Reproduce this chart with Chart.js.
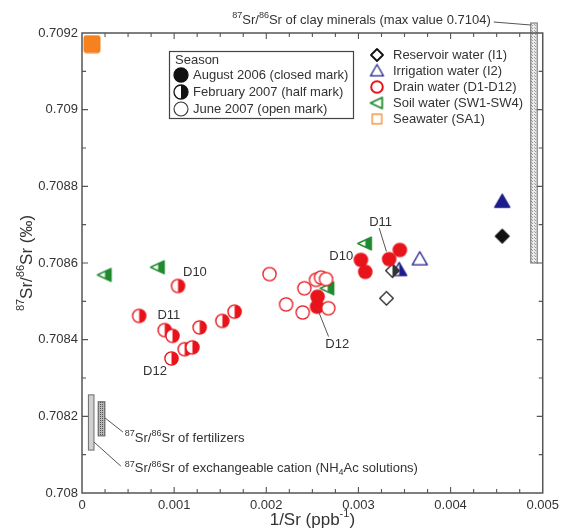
<!DOCTYPE html>
<html><head><meta charset="utf-8">
<script src="https://cdn.jsdelivr.net/npm/chart.js@4"></script>
<style>html,body{margin:0;padding:0;background:#fff}#wrap{width:564px;height:531px;position:relative}</style>
</head><body><div id="wrap"><canvas id="c"></canvas></div>
<script>
// ---------- DATA ----------
const drainAug = [[0.003449,0.708634],[0.003333,0.70861],[0.003027,0.708608],[0.003074,0.708577],[0.002557,0.708512],[0.002551,0.708486]];
const drainFeb = [[0.001042,0.70854],[0.00062,0.708462],[0.000898,0.708425],[0.000982,0.70841],[0.001277,0.708432],[0.001523,0.708449],[0.001656,0.708473],[0.001115,0.708375],[0.001198,0.70838],[0.000971,0.708351]];
const drainJun = [[0.002035,0.708571],[0.002413,0.708534],[0.00254,0.708556],[0.002594,0.708562],[0.002648,0.708558],[0.002215,0.708492],[0.002395,0.708471],[0.002673,0.708482]];
const soilFeb = [[0.000249,0.708569],[0.000826,0.708589],[0.003074,0.708651],[0.002666,0.708534]];
const irrigAug = [[0.00456,0.70876]];
const irrigFeb = [[0.003442,0.708582]];
const irrigJun = [[0.003666,0.70861]];
const resAug = [[0.00456,0.70867]];
const resFeb = [[0.003369,0.70858]];
const resJun = [[0.003304,0.708508]];
const seaAug = [[0.000108,0.709171]];
// ranges drawn as bars: [xFrom, xTo, yFrom, yTo]
const clayRange = [0.00487, 0.00494, 0.7086, 0.7104];
const exchRange = [0.00007, 0.00013, 0.708112, 0.708256];
const fertRange = [0.000176, 0.000248, 0.708149, 0.708238];
// axis
const xMin = 0, xMax = 0.005, xStep = 0.00025, xMajor = 0.001;
const yMin = 0.708, yMax = 0.7092, yStep = 0.0001;
const seasonLabels = ['August 2006 (closed mark)', 'February 2007 (half mark)', 'June 2007 (open mark)'];
const typeLabels = ['Reservoir water (I1)', 'Irrigation water (I2)', 'Drain water (D1-D12)', 'Soil water (SW1-SW4)', 'Seawater (SA1)'];
// sample labels, anchored in data units
const sampleLabels = [
  {t:'D10', x:0.001096, y:0.708576}, {t:'D11', x:0.000819, y:0.708462}, {t:'D12', x:0.000663, y:0.708318},
  {t:'D11', x:0.003117, y:0.708705}, {t:'D10', x:0.002684, y:0.708618}, {t:'D12', x:0.002641, y:0.708388}
];
const leaderLines = [
  [0.003225,0.708691,0.003304,0.70863], [0.002568,0.708473,0.002676,0.708408],
  [0.000249,0.708196,0.000444,0.708159], [0.00013,0.708133,0.000422,0.70807]
];

// ---------- helpers ----------
const FAM = '"Liberation Sans", Arial, Helvetica, sans-serif';
const RED = '#e8141b', GREEN = '#1f8a2e', NAVY = '#1c1c8a', ORANGE = '#f5821f', BLACK = '#111';

function shapePath(ctx, shape, c, r) {
  ctx.beginPath();
  if (shape === 'circle') ctx.arc(c, c, r, 0, Math.PI * 2);
  else if (shape === 'triUp') { ctx.moveTo(c, c - r); ctx.lineTo(c + r * 1.0, c + r * 0.75); ctx.lineTo(c - r * 1.0, c + r * 0.75); ctx.closePath(); }
  else if (shape === 'triLeft') { ctx.moveTo(c - r, c); ctx.lineTo(c + r * 0.8, c - r * 0.85); ctx.lineTo(c + r * 0.8, c + r * 0.85); ctx.closePath(); }
  else if (shape === 'diamond') { ctx.moveTo(c, c - r); ctx.lineTo(c + r, c); ctx.lineTo(c, c + r); ctx.lineTo(c - r, c); ctx.closePath(); }
  else if (shape === 'square') { ctx.rect(c - r, c - r, 2 * r, 2 * r); }
}
function marker(shape, color, fill, r, lw) {
  const s = Math.ceil(2 * r + lw + 4);
  const cv = document.createElement('canvas'); cv.width = s; cv.height = s;
  const ctx = cv.getContext('2d'); const c = s / 2;
  ctx.lineJoin = 'round'; ctx.lineWidth = lw; ctx.strokeStyle = color;
  shapePath(ctx, shape, c, r);
  ctx.fillStyle = fill === 'full' ? color : '#fff'; ctx.fill();
  if (fill === 'half') {
    ctx.save(); ctx.beginPath(); ctx.rect(c, 0, s, s); ctx.clip();
    shapePath(ctx, shape, c, r); ctx.fillStyle = color; ctx.fill(); ctx.restore();
    shapePath(ctx, shape, c, r);
  }
  ctx.stroke();
  return cv;
}
function pattern(ctx, bg, dot, n) {
  const cv = document.createElement('canvas'); cv.width = n; cv.height = n;
  const p = cv.getContext('2d'); p.fillStyle = bg; p.fillRect(0, 0, n, n);
  p.fillStyle = dot; p.fillRect(0, 0, 1, 1); if (n > 2) p.fillRect(Math.floor(n/2), Math.floor(n/2), 1, 1);
  return ctx.createPattern(cv, 'repeat');
}
function rich(ctx, x, y, parts, size, align) {
  let w = 0;
  const ms = parts.map(([t, m]) => { ctx.font = (m ? Math.round(size * 0.66) : size) + 'px ' + FAM; const v = ctx.measureText(t).width; w += v; return v; });
  let cx = align === 'center' ? x - w / 2 : align === 'right' ? x - w : x;
  ctx.textAlign = 'left'; ctx.textBaseline = 'middle';
  parts.forEach(([t, m], i) => {
    ctx.font = (m ? Math.round(size * 0.66) : size) + 'px ' + FAM;
    const dy = m === 'sup' ? -size * 0.36 : m === 'sub' ? size * 0.3 : 0;
    ctx.fillText(t, cx, y + dy); cx += ms[i];
  });
}

// markers
const M = {
  drainAug: marker('circle', RED, 'full', 6.6, 1.4),
  drainFeb: marker('circle', RED, 'half', 6.6, 1.4),
  drainJun: marker('circle', RED, 'none', 6.6, 1.3),
  soilFeb: marker('triLeft', GREEN, 'half', 7.5, 1.5),
  irrigAug: marker('triUp', NAVY, 'full', 7.5, 1.4),
  irrigFeb: marker('triUp', NAVY, 'half', 7.5, 1.4),
  irrigJun: marker('triUp', NAVY, 'none', 7.5, 1.3),
  resAug: marker('diamond', BLACK, 'full', 6.8, 1.4),
  resFeb: marker('diamond', '#333', 'half', 6.8, 1.4),
  resJun: marker('diamond', '#333', 'none', 6.8, 1.4),
  sea: (function(){ const cv = document.createElement('canvas'); cv.width = 18; cv.height = 19; const c = cv.getContext('2d'); c.fillStyle = ORANGE; c.beginPath(); c.roundRect(0.5, 0.5, 17, 18, 3); c.fill(); return cv; })()
};
const pts = a => a.map(([x, y]) => ({x, y}));
const ds = (data, img) => ({data: pts(data), pointStyle: img, pointRadius: 7, pointHoverRadius: 7, showLine: false});

const barsPlugin = {
  id: 'bars',
  beforeDatasetsDraw(chart) {
    const {ctx, scales: {x, y}, chartArea: a} = chart;
    ctx.save();
    const rect = (r, fill, stroke, topClip) => {
      const x0 = x.getPixelForValue(r[0]), x1 = x.getPixelForValue(r[1]);
      let y0 = y.getPixelForValue(r[3]); const y1 = y.getPixelForValue(r[2]);
      if (topClip !== undefined) y0 = Math.max(y0, topClip);
      ctx.fillStyle = fill; ctx.fillRect(x0, y0, x1 - x0, y1 - y0);
      ctx.strokeStyle = stroke; ctx.lineWidth = 1.1; ctx.strokeRect(x0, y0, x1 - x0, y1 - y0);
    };
    rect(clayRange, pattern(ctx, '#ececec', '#9a9a9a', 3), '#777', a.top - 10);
    rect(exchRange, '#cfcfcf', '#777');
    rect(fertRange, pattern(ctx, '#b8b8b8', '#555', 2), '#666');
    ctx.restore();
  },
  afterDraw(chart) {
    const {ctx, scales: {x, y}, chartArea: a} = chart;
    ctx.save();
    // frame
    ctx.strokeStyle = '#555'; ctx.lineWidth = 1.5;
    ctx.strokeRect(a.left, a.top, a.right - a.left, a.bottom - a.top);
    // inward ticks
    ctx.lineWidth = 1.1;
    x.ticks.forEach(t => {
      const px = x.getPixelForValue(t.value);
      if (px <= a.left + 1 || px >= a.right - 1) return;
      const major = Math.abs(t.value / xMajor - Math.round(t.value / xMajor)) < 1e-6;
      const L = major ? 6 : 4;
      ctx.beginPath(); ctx.moveTo(px, a.bottom); ctx.lineTo(px, a.bottom - L); ctx.moveTo(px, a.top); ctx.lineTo(px, a.top + L); ctx.stroke();
    });
    y.ticks.forEach((t, i) => {
      const py = y.getPixelForValue(t.value);
      if (py <= a.top + 1 || py >= a.bottom - 1) return;
      const L = i % 2 === 0 ? 6 : 4;
      ctx.beginPath(); ctx.moveTo(a.left, py); ctx.lineTo(a.left + L, py); ctx.moveTo(a.right, py); ctx.lineTo(a.right - L, py); ctx.stroke();
    });
    ctx.fillStyle = '#333'; ctx.strokeStyle = '#555'; ctx.lineWidth = 1;
    // axis titles
    rich(ctx, (a.left + a.right) / 2, 520, [['1/Sr (ppb', ''], ['-1', 'sup'], [')', '']], 17, 'center');
    ctx.save(); ctx.translate(27, (a.top + a.bottom) / 2); ctx.rotate(-Math.PI / 2);
    rich(ctx, 0, 0, [['87', 'sup'], ['Sr/', ''], ['86', 'sup'], ['Sr (‰)', '']], 17, 'center');
    ctx.restore();
    // sample labels and leaders
    ctx.font = '13px ' + FAM; ctx.textAlign = 'left'; ctx.textBaseline = 'middle';
    sampleLabels.forEach(l => ctx.fillText(l.t, x.getPixelForValue(l.x), y.getPixelForValue(l.y)));
    leaderLines.forEach(l => { ctx.beginPath(); ctx.moveTo(x.getPixelForValue(l[0]), y.getPixelForValue(l[1])); ctx.lineTo(x.getPixelForValue(l[2]), y.getPixelForValue(l[3])); ctx.stroke(); });
    // range annotations
    const tx = x.getPixelForValue(0.000465);
    rich(ctx, tx, y.getPixelForValue(0.708143), [['87', 'sup'], ['Sr/', ''], ['86', 'sup'], ['Sr of fertilizers', '']], 13, 'left');
    rich(ctx, tx, y.getPixelForValue(0.708063), [['87', 'sup'], ['Sr/', ''], ['86', 'sup'], ['Sr of exchangeable cation (NH', ''], ['4', 'sub'], ['Ac solutions)', '']], 13, 'left');
    const clayX = x.getPixelForValue(clayRange[0]);
    rich(ctx, clayX - 40, 20, [['87', 'sup'], ['Sr/', ''], ['86', 'sup'], ['Sr of clay minerals (max value 0.7104)', '']], 13, 'right');
    ctx.beginPath(); ctx.moveTo(clayX - 37, 22); ctx.lineTo(clayX, 25); ctx.stroke();
    // Season legend box
    ctx.strokeStyle = '#444'; ctx.lineWidth = 1.2; ctx.strokeRect(169.5, 51.5, 184, 67);
    ctx.fillStyle = '#333'; ctx.font = '13px ' + FAM; ctx.textAlign = 'left'; ctx.textBaseline = 'middle';
    ctx.fillText('Season', 175, 60);
    const sm = [marker('circle', BLACK, 'full', 7, 1.3), marker('circle', BLACK, 'half', 7, 1.3), marker('circle', '#333', 'none', 7, 1.1)];
    seasonLabels.forEach((s, i) => {
      const yy = 75 + i * 17;
      ctx.drawImage(sm[i], 181 - sm[i].width / 2, yy - sm[i].height / 2);
      ctx.fillText(s, 193, yy);
    });
    // type legend
    const tm = [marker('diamond', BLACK, 'none', 6, 1.8), marker('triUp', NAVY, 'none', 6.5, 1.2), marker('circle', RED, 'none', 5.8, 2), marker('triLeft', GREEN, 'none', 6.5, 1.8), marker('square', ORANGE, 'none', 4.8, 1.2)];
    typeLabels.forEach((s, i) => {
      const yy = 55 + i * 16;
      ctx.drawImage(tm[i], 377 - tm[i].width / 2, yy - tm[i].height / 2);
      ctx.fillStyle = '#333'; ctx.fillText(s, 393, yy);
    });
    ctx.restore();
  }
};

new Chart(document.getElementById('c'), {
  type: 'scatter',
  data: {datasets: [
    ds(drainFeb, M.drainFeb), ds(drainJun, M.drainJun), ds(drainAug, M.drainAug),
    ds(soilFeb, M.soilFeb),
    ds(resJun, M.resJun), ds(resFeb, M.resFeb), ds(resAug, M.resAug),
    ds(irrigJun, M.irrigJun), ds(irrigFeb, M.irrigFeb), ds(irrigAug, M.irrigAug),
    ds(seaAug, M.sea)
  ]},
  options: {
    responsive: true, maintainAspectRatio: false, animation: false,
    layout: {padding: {top: 33, right: 20, left: 0, bottom: 0}},
    plugins: {legend: {display: false}, tooltip: {enabled: false}},
    scales: {
      x: {type: 'linear', min: xMin, max: xMax,
        grid: {display: false, drawTicks: false, tickLength: 0}, border: {display: false},
        afterFit: s => { s.height = 38; },
        ticks: {stepSize: xStep, maxTicksLimit: 1000, autoSkip: false, maxRotation: 0, padding: 5, color: '#333', font: {family: FAM, size: 13},
          callback: v => Math.abs(v / xMajor - Math.round(v / xMajor)) < 1e-6 ? String(parseFloat(v.toFixed(4))) : ''}},
      y: {type: 'linear', min: yMin, max: yMax,
        grid: {display: false, drawTicks: false, tickLength: 0}, border: {display: false},
        afterFit: s => { s.width = 82; },
        ticks: {stepSize: yStep, maxTicksLimit: 1000, autoSkip: false, padding: 4, color: '#333', font: {family: FAM, size: 13},
          callback: (v, i) => i % 2 === 0 ? String(parseFloat(v.toFixed(4))) : ''}}
    }
  },
  plugins: [barsPlugin]
});
</script></body></html>
